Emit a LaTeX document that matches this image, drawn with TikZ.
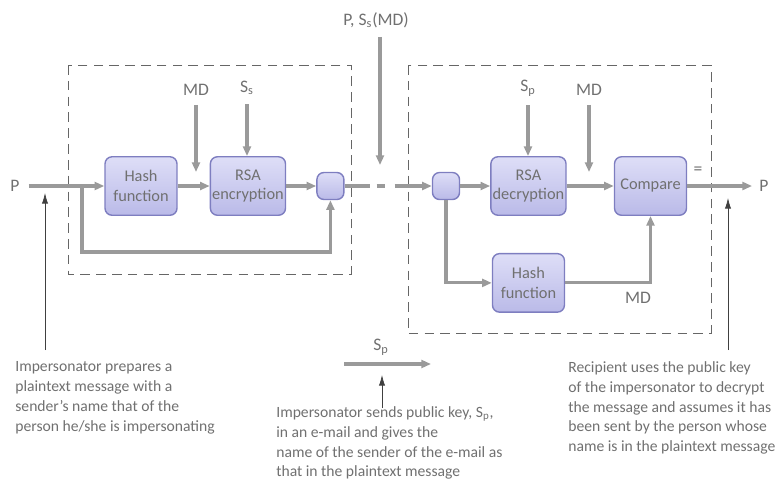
\documentclass[tikz,border=0pt]{standalone}
\usepackage{fontspec}
\setmainfont{Carlito}
\usepackage{xcolor}
\usetikzlibrary{positioning,arrows.meta,calc}
\definecolor{wire}{HTML}{9A9A9A}
\definecolor{boxtop}{HTML}{DEDEF7}
\definecolor{boxbot}{HTML}{BABAE8}
\definecolor{boxrim}{HTML}{7E7EC0}
\definecolor{ink}{HTML}{707070}
\tikzset{
  blk/.style={draw=boxrim,thick,rounded corners=4pt,top color=boxtop,bottom color=boxbot,
            minimum width=1.44cm,minimum height=1.17cm,inner sep=1pt,
            align=center,text=ink,font=\fontsize{9.3}{11}\selectfont},
  knot/.style={blk,minimum width=0.54cm,minimum height=0.54cm},
  flow/.style={-{Triangle[length=5.5pt,width=4.5pt]},line width=1.8pt,wire},
  drop/.style={flow,shorten <=4pt},
  cue/.style={-{Latex[length=6pt,width=3.5pt]},thin,black!75},
  frame/.style={draw=black!60,thin,dash pattern=on 5.5pt off 3.5pt},
  tag/.style={text=ink,font=\fontsize{10}{11}\selectfont,inner sep=1pt},
  note/.style={text=ink,align=left,anchor=west,inner sep=0pt,font=\fontsize{8.9}{11.3}\selectfont},
}

\begin{document}
\begin{tikzpicture}[x=0.02cm,y=-0.02cm]
  \clip (0,0) rectangle (775,495);
  % sender side
  \draw[frame] (68,65) rectangle (351,274);
  \node[blk] (hashA) at (141,186) {Hash\\function};
  \node[blk,right=0.64cm of hashA] (rsaE) {RSA\\encryption};
  \node[knot,right=0.6cm of rsaE] (joinA) {};
  \node[tag] (pin) at (15,186) {P};
  \node[tag] (mdA) at (196,90) {MD};
  \node[tag] (ssA) at (247,88) {S\textsubscript{s}};
  \node[tag] (sig) at (376,20) {P, S\textsubscript{s}(MD)};
  \coordinate (tap) at (82,186);
  \coordinate (loop) at (82,252);
  \coordinate (mdAend) at (196,172);
  \coordinate (sigend) at (380,165);
  \draw[drop] (pin) -- (hashA);
  \draw[flow] (hashA) -- (rsaE);
  \draw[flow] (rsaE) -- (joinA);
  \draw[flow] (tap) -- (loop) -| (joinA.south);
  \draw[drop] (mdA) -- (mdAend);
  \draw[drop] (ssA) -- (ssA |- rsaE.north);
  \draw[drop] (sig.south -| sigend) -- (sigend);

  % receiver side
  \draw[frame] (408,65) rectangle (711,333);
  \node[knot] (joinB) at (446,186) {};
  \node[blk,right=0.6cm of joinB] (rsaD) {RSA\\decryption};
  \node[blk] (cmp) at (650.5,186) {Compare};
  \node[blk,below=0.74cm of rsaD] (hashB) {Hash\\function};
  \node[tag] (spA) at (528,88) {S\textsubscript{p}};
  \node[tag] (mdB) at (589,90) {MD};
  \node[tag] (mdC) at (638,298) {MD};
  \node[tag] (eq) at (698,171) {=};
  \node[tag] (pout) at (764,186) {P};
  \coordinate (mdBend) at (589,172);
  \draw[flow,dash pattern=on 0.5cm off 0.14cm on 0.16cm off 0.2cm on 3cm] (joinA) -- (joinB);
  \draw[flow] (joinB) -- (rsaD);
  \draw[flow] (rsaD) -- (cmp);
  \draw[drop] (spA) -- (spA |- rsaD.north);
  \draw[drop] (mdB) -- (mdBend);
  \draw[flow] (joinB.south) |- (hashB.west);
  \draw[flow] (hashB.east) -| (cmp.south);
  \draw[flow,shorten >=3pt] (cmp) -- (pout);

  % public key sent by mail
  \node[tag] (spB) at (381,347) {S\textsubscript{p}};
  \coordinate (keyL) at (344,364);
  \coordinate (keyR) at (431,364);
  \draw[flow] (keyL) -- (keyR);

  % notes and pointers
  \node[note] (noteA) at (15,398) {Impersonator prepares a\\plaintext message with a\\sender's name that of the\\person he/she is impersonating};
  \node[note] (noteB) at (276,443) {Impersonator sends public key, S\textsubscript{p},\\in an e-mail and gives the\\name of the sender of the e-mail as\\that in the plaintext message};
  \node[note] (noteC) at (568,408) {Recipient uses the public key\\of the impersonator to decrypt\\the message and assumes it has\\been sent by the person whose\\name is in the plaintext message};
  \coordinate (cueA) at (45,193);
  \coordinate (cueAtail) at (45,350);
  \coordinate (cueB) at (382,375);
  \coordinate (cueBtail) at (382,408);
  \coordinate (cueC) at (728,198);
  \coordinate (cueCtail) at (728,350);
  \draw[cue] (cueAtail) -- (cueA);
  \draw[cue] (cueBtail) -- (cueB);
  \draw[cue] (cueCtail) -- (cueC);
\end{tikzpicture}
\end{document}
